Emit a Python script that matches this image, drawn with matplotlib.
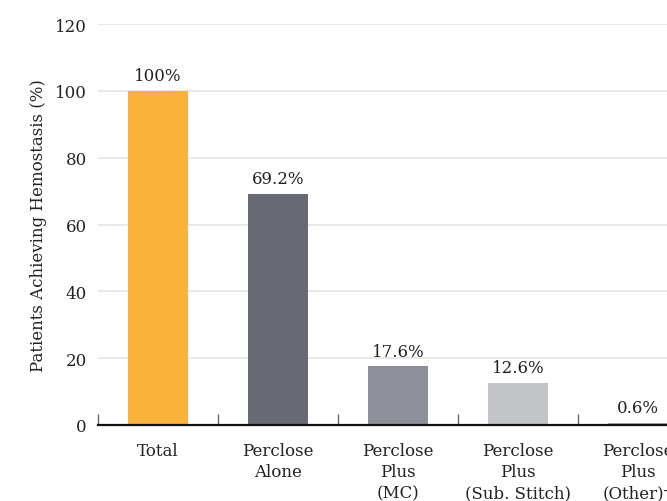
import matplotlib.pyplot as plt
import numpy as np

categories = ["Total", "Perclose\nAlone", "Perclose\nPlus\n(MC)", "Perclose\nPlus\n(Sub. Stitch)", "Perclose\nPlus\n(Other)\u2020"]
values = [100, 69.2, 17.6, 12.6, 0.6]
value_labels = ["100%", "69.2%", "17.6%", "12.6%", "0.6%"]
colors = ["#F9B23B", "#676A73", "#8E9099", "#C3C4C8", "#A6A8AE"]
y_ticks = [0, 20, 40, 60, 80, 100, 120]

plt.rcParams["font.family"] = ["DejaVu Serif"]

fig = plt.figure(figsize=(6.67, 5.02), dpi=100)
ax = fig.add_axes([98 / 667, 76 / 502, 600 / 667, 401 / 502])

x = np.arange(len(categories))
ax.bar(x, values, width=0.5, color=colors, zorder=3)
for xi, v, lab in zip(x, values, value_labels):
    ax.text(xi, v + 2, lab, ha="center", va="bottom", fontsize=12, color="#222222")

ax.set_xlim(-0.5, len(categories) - 0.5)
ax.set_ylim(0, 120)
ax.set_yticks(y_ticks)
ax.tick_params(axis="y", length=0, labelsize=12, pad=8, colors="#222222")
ax.yaxis.grid(True, color="#E4E4E4", linewidth=1.2, zorder=0)

ax.set_xticks(x)
ax.set_xticklabels(categories, fontsize=12, color="#222222", linespacing=1.35)
ax.tick_params(axis="x", length=0, pad=12)
ax.set_xticks(np.arange(-0.5, len(categories)), minor=True)
ax.tick_params(axis="x", which="minor", direction="in", length=8, width=1, color="#666666")

for s in ["top", "right", "left"]:
    ax.spines[s].set_visible(False)
ax.spines["bottom"].set_linewidth(1.6)
ax.spines["bottom"].set_color("#111111")
ax.spines["bottom"].set_zorder(4)

ax.set_ylabel("Patients Achieving Hemostasis (%)", fontsize=12, color="#222222", labelpad=6)

fig.savefig("out.png", dpi=100)
